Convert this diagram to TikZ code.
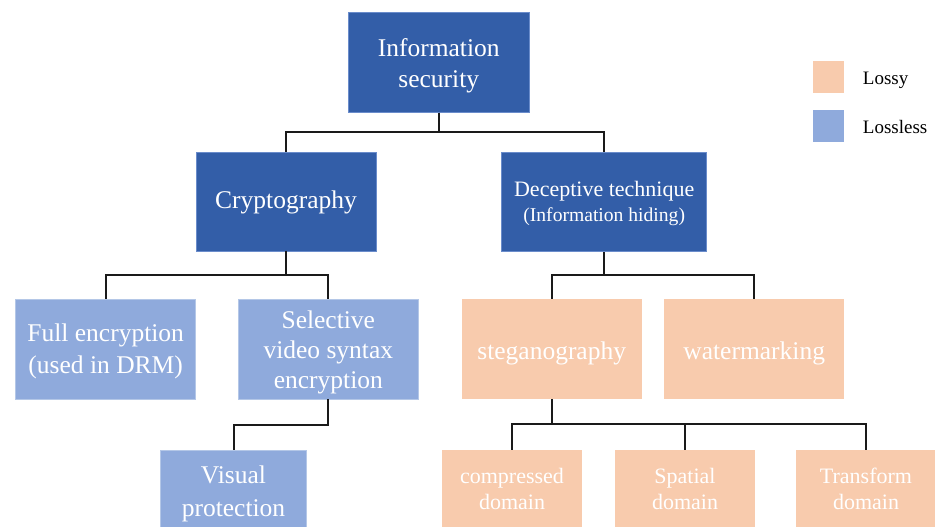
\documentclass[tikz,border=0pt]{standalone}
\usepackage{fontspec}
\setmainfont{Liberation Serif}
\definecolor{darkblue}{HTML}{335EA8}
\definecolor{darkedge}{HTML}{6A8CCB}
\definecolor{lossless}{HTML}{8FAADC}
\definecolor{losslessedge}{HTML}{B4C7E7}
\definecolor{lossy}{HTML}{F8CBAD}
\definecolor{wire}{HTML}{1A1A1A}
\begin{document}
\begin{tikzpicture}[x=1pt,y=-1pt,
  box/.style={rectangle, inner sep=0pt},
  topbox/.style={box, fill=darkblue, draw=darkedge, line width=0.6pt},
  lessbox/.style={box, fill=lossless, draw=losslessedge, line width=0.6pt},
  lossbox/.style={box, fill=lossy},
  ln/.style={anchor=base, inner sep=0pt, text=white, font=\fontsize{25.5}{31}\selectfont},
  lnsmall/.style={ln, font=\fontsize{22}{26}\selectfont},
  lntiny/.style={ln, font=\fontsize{19.6}{24}\selectfont},
  wirestyle/.style={draw=wire, line width=2pt},
  legendbox/.style={rectangle, inner sep=0pt, minimum width=31, minimum height=31.5},
  legendtext/.style={anchor=base west, inner sep=0pt, font=\fontsize{19}{22}\selectfont}]
\useasboundingbox (0,0) rectangle (935,527);
\clip (0,0) rectangle (935,527);

% boxes of the tree
\node[topbox, minimum width=180.5, minimum height=99.6] (info) at (438.75,62.5) {};
\node[topbox, minimum width=180, minimum height=99] (crypto) at (286,201.5) {};
\node[topbox, minimum width=205, minimum height=99.4] (decep) at (604.2,202) {};
\node[lessbox, minimum width=180, minimum height=99.5] (full) at (105.7,349.2) {};
\node[lessbox, minimum width=180, minimum height=99.5] (select) at (328.3,349.2) {};
\node[lossbox, minimum width=180, minimum height=99.5] (stego) at (551.7,349.2) {};
\node[lossbox, minimum width=180.3, minimum height=99.5] (water) at (754.2,349.2) {};
\node[lessbox, minimum width=146.4, minimum height=82] (visual) at (233.5,491) {};
\node[lossbox, minimum width=140, minimum height=79] (comp) at (512,489.5) {};
\node[lossbox, minimum width=140, minimum height=79] (spatial) at (685,489.5) {};
\node[lossbox, minimum width=140, minimum height=79] (trans) at (866,489.5) {};

% box texts, one line each, set on their baselines
\node[ln] (info-a) at (438.75,56.7) {Information};
\node[ln] (info-b) at (438.75,87.3) {security};
\node[ln] (crypto-a) at (286,208.3) {Cryptography};
\node[lnsmall] (decep-a) at (604.2,196.7) {Deceptive technique};
\node[lntiny] (decep-b) at (604.2,221.7) {(Information hiding)};
\node[ln] (full-a) at (105.7,341.7) {Full encryption};
\node[ln] (full-b) at (105.7,373.3) {(used in DRM)};
\node[ln] (select-a) at (328.3,328.3) {Selective};
\node[ln] (select-b) at (328.3,358.3) {video syntax};
\node[ln] (select-c) at (328.3,388.3) {encryption};
\node[ln] (stego-a) at (551.7,359) {steganography};
\node[ln] (water-a) at (754.2,359) {watermarking};
\node[ln] (visual-a) at (233.5,483.3) {Visual};
\node[ln] (visual-b) at (233.5,516) {protection};
\node[lnsmall] (comp-a) at (512,483.3) {compressed};
\node[lnsmall] (comp-b) at (512,509.3) {domain};
\node[lnsmall] (spatial-a) at (685,483.3) {Spatial};
\node[lnsmall] (spatial-b) at (685,509.3) {domain};
\node[lnsmall] (trans-a) at (866,483.3) {Transform};
\node[lnsmall] (trans-b) at (866,509.3) {domain};

% connectors
\draw[wirestyle] (info.south) -- ++(0,19.8) -| (crypto.north);
\draw[wirestyle] (info.south) -- ++(0,19.8) -| (decep.north);
\draw[wirestyle] (crypto.south) -- ++(0,24) -| (full.north);
\draw[wirestyle] (crypto.south) -- ++(0,24) -| (select.north);
\draw[wirestyle] (decep.south) -- ++(0,23.3) -| (stego.north);
\draw[wirestyle] (decep.south) -- ++(0,23.3) -| (water.north);
\draw[wirestyle] (select.south) -- ++(0,25.3) -| (visual.north);
\draw[wirestyle] (stego.south) -- ++(0,25.3) -| (comp.north);
\draw[wirestyle] (stego.south) -- ++(0,25.3) -| (spatial.north);
\draw[wirestyle] (stego.south) -- ++(0,25.3) -| (trans.north);

% legend
\node[legendbox, fill=lossy] (lossykey) at (828.8,76.8) {};
\node[legendtext] (lossylabel) at (862.7,84.3) {Lossy};
\node[legendbox, fill=lossless] (losslesskey) at (828.8,126.2) {};
\node[legendtext] (losslesslabel) at (862.7,133.3) {Lossless};
\end{tikzpicture}
\end{document}
